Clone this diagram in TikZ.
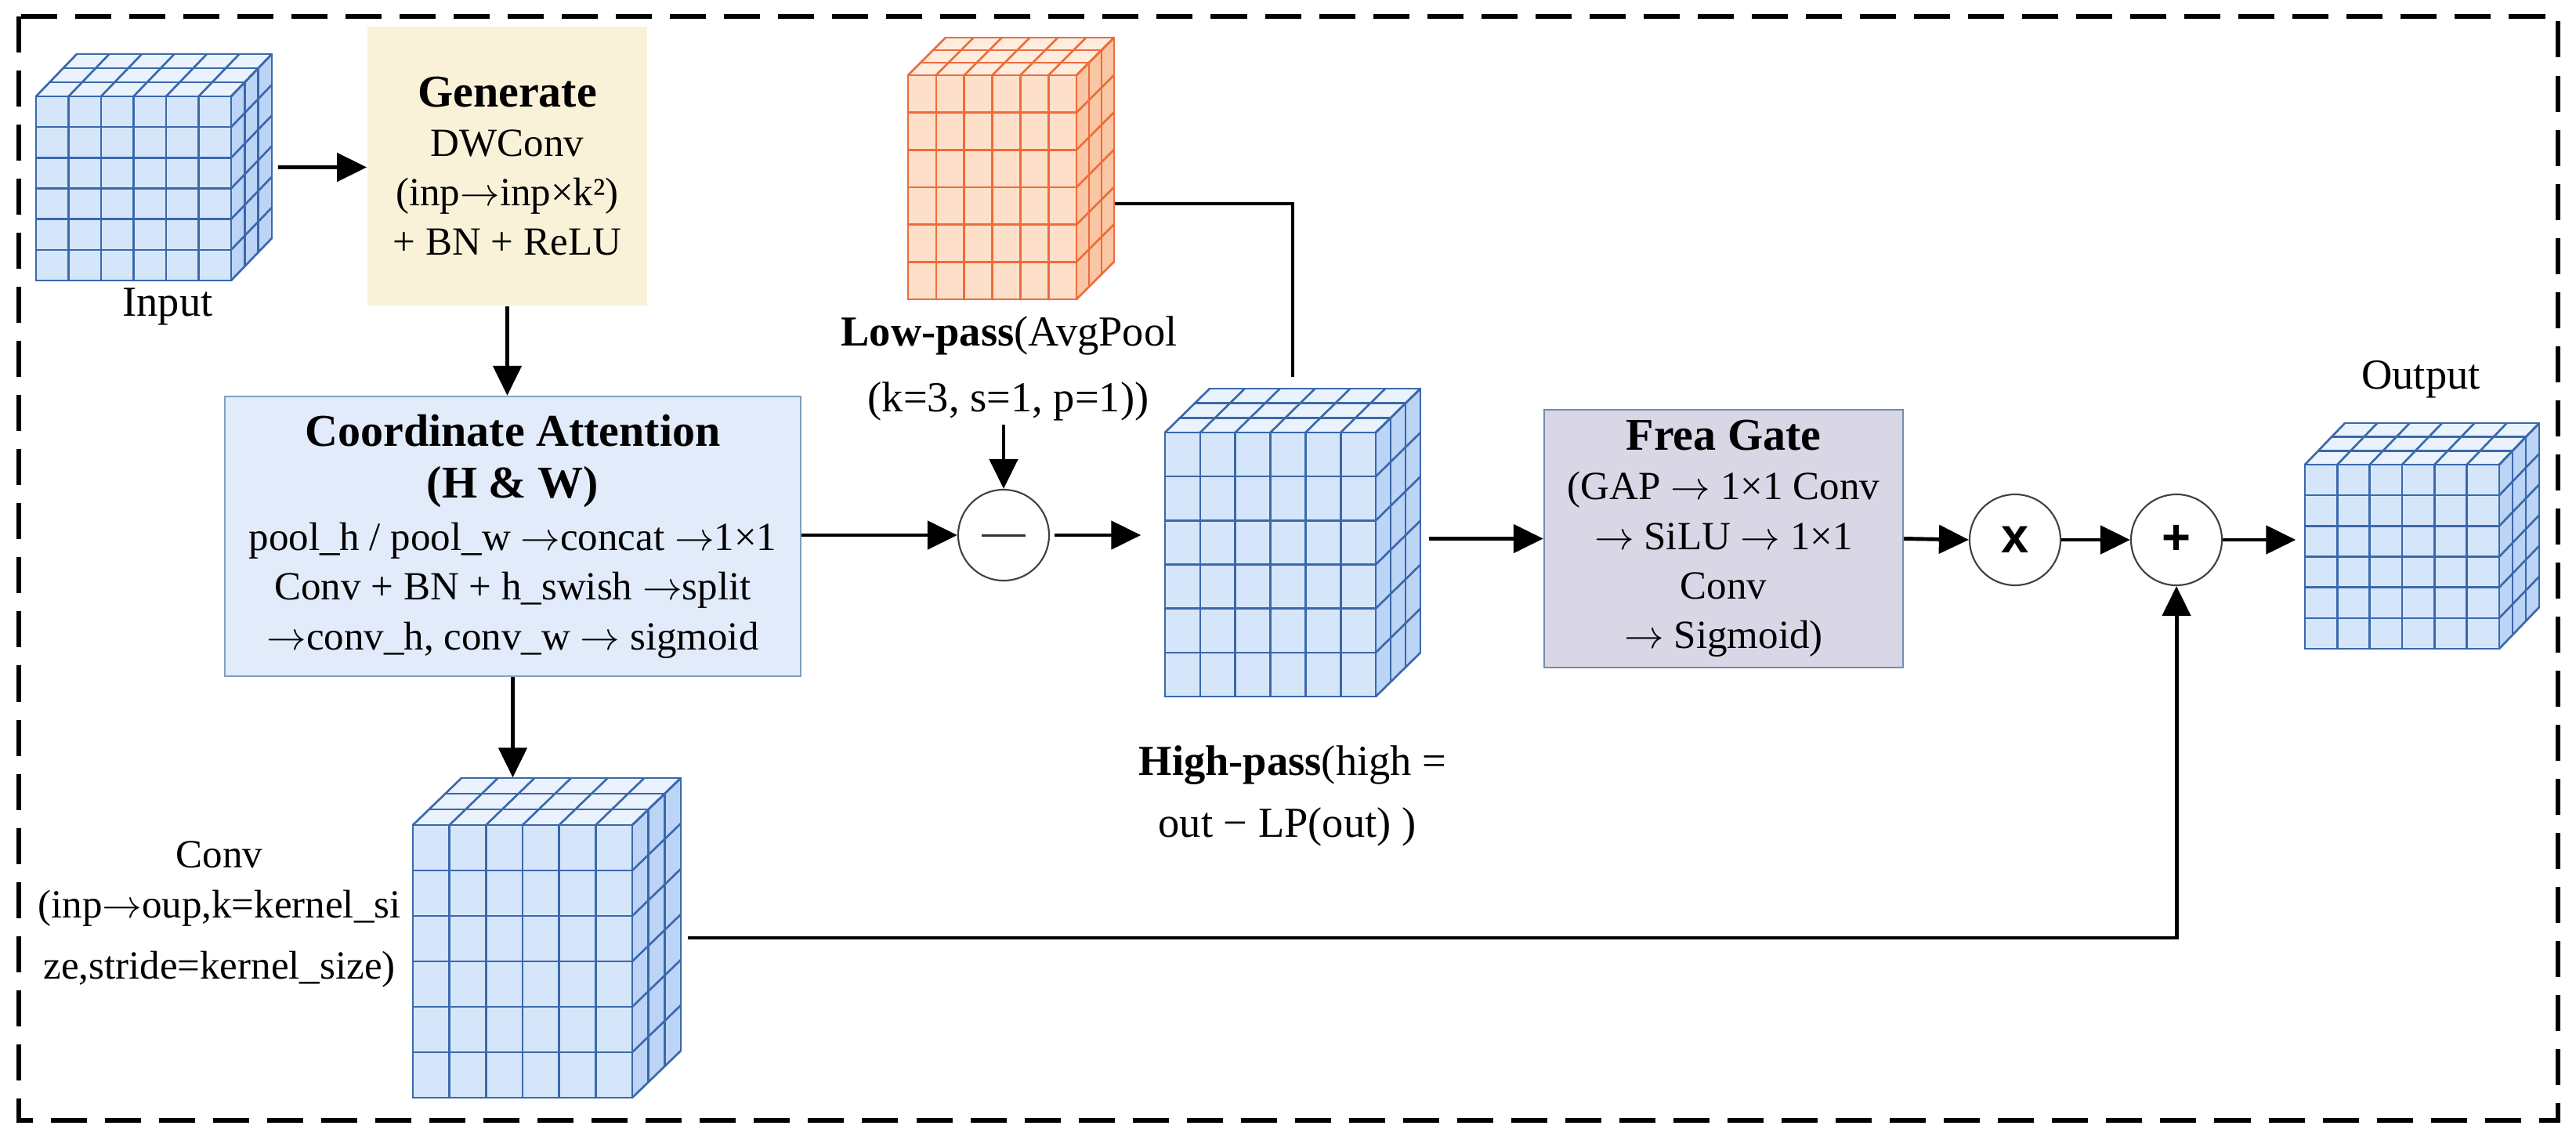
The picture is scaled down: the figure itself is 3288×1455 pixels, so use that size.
\documentclass[tikz,border=0pt]{standalone}
\usepackage{fontspec}
\setmainfont{Liberation Serif}
\newfontfamily\opfont{Liberation Sans}
\usetikzlibrary{arrows.meta,fit}

\newcommand{\ra}{\ensuremath{\rightarrow}}

\definecolor{genfill}{RGB}{250,242,216}
\definecolor{cafill}{RGB}{226,235,250}
\definecolor{cadraw}{RGB}{128,160,192}
\definecolor{freafill}{RGB}{217,214,230}
\definecolor{freadraw}{RGB}{112,142,172}
\definecolor{bfront}{RGB}{214,230,250}
\definecolor{btop}{RGB}{233,242,253}
\definecolor{bside}{RGB}{188,212,245}
\definecolor{bline}{RGB}{58,104,172}
\definecolor{ofront}{RGB}{253,223,202}
\definecolor{otop}{RGB}{254,236,223}
\definecolor{oside}{RGB}{250,198,164}
\definecolor{oline}{RGB}{238,108,58}

\newcommand{\featcube}[8]{%
  \pgfmathsetmacro{\cw}{(#3-#1)/6}%
  \pgfmathsetmacro{\chh}{(#4-#2)/6}%
  \fill[#7front] (#1,#2) rectangle (#3,#4);
  \fill[#7top] (#1,#2) -- (#3,#2) -- ({#3+#5},{#2-#6}) -- ({#1+#5},{#2-#6}) -- cycle;
  \fill[#7side] (#3,#2) -- ({#3+#5},{#2-#6}) -- ({#3+#5},{#4-#6}) -- (#3,#4) -- cycle;
  \begin{scope}[color=#7line, line width=0.75pt, line join=round, line cap=round]
    \foreach \ii in {0,...,6}{
      \draw ({#1+\ii*\cw},#2) -- ({#1+\ii*\cw},#4);
      \draw (#1,{#2+\ii*\chh}) -- (#3,{#2+\ii*\chh});
      \draw ({#1+\ii*\cw},#2) -- ({#1+\ii*\cw+#5},{#2-#6});
      \draw (#3,{#2+\ii*\chh}) -- ({#3+#5},{#2+\ii*\chh-#6});
    }
    \foreach \kk in {1,2,3}{
      \draw ({#1+\kk*#5/3},{#2-\kk*#6/3}) -- ({#3+\kk*#5/3},{#2-\kk*#6/3});
      \draw ({#3+\kk*#5/3},{#2-\kk*#6/3}) -- ({#3+\kk*#5/3},{#4-\kk*#6/3});
    }
  \end{scope}
  \node[fit={(#1,{#2-#6}) ({#3+#5},#4)}, inner sep=0pt] (#8) {};
}

\begin{document}
\begin{tikzpicture}[x=0.01cm,y=-0.01cm,
  arr/.style={line width=1.4pt,-{Triangle[length=0.38cm,width=0.36cm]}},
  conn/.style={line width=1.4pt},
  txt/.style={inner sep=0pt,font=\fontsize{15.5}{18}\selectfont},
  smalltxt/.style={inner sep=0pt,font=\fontsize{14.5}{18}\selectfont},
  box/.style={inner sep=2pt,align=center,font=\fontsize{14.5}{18}\selectfont},
  opnode/.style={circle,draw=black!75,line width=0.6pt,fill=white,minimum size=1.16cm,inner sep=0pt,font=\opfont\bfseries\fontsize{18}{18}\selectfont},
]
\useasboundingbox (0,0) rectangle (3288,1455);
\fill[white] (0,0) rectangle (3288,1455);

% outer dashed frame
\draw[line width=0.06cm, dash pattern=on 0.46cm off 0.23cm] (24,21) rectangle (3265,1430);

% cubes
\featcube{46}{123}{295}{358}{52}{54}{b}{incube}
\featcube{1159}{96}{1374}{382}{48}{48}{o}{lpcube}
\featcube{1487}{552}{1756}{889}{57}{56}{b}{hpcube}
\featcube{527}{1053}{807}{1401}{62}{60}{b}{convcube}
\featcube{2942}{593}{3190}{828}{51}{53}{b}{outcube}

% boxes
\node[box, fill=genfill, minimum width=3.57cm, minimum height=3.56cm] (gen) at (647.5,212)
  {{\bfseries\fontsize{16.5}{18}\selectfont Generate}\\DWConv\\(inp\ra inp×k²)\\+ BN + ReLU};
\node[box, fill=cafill, draw=cadraw, line width=0.6pt, minimum width=7.35cm, minimum height=3.57cm] (ca) at (654.5,684.5)
  {{\bfseries\fontsize{16.5}{18}\selectfont Coordinate Attention}\\[1pt]{\bfseries\fontsize{16.5}{18}\selectfont (H \& W)}\\[1pt]pool\_h / pool\_w \ra concat \ra 1×1\\Conv + BN + h\_swish \ra split\\\ra conv\_h, conv\_w \ra{} sigmoid};
\node[box, fill=freafill, draw=freadraw, line width=0.6pt, minimum width=4.58cm, minimum height=3.29cm] (frea) at (2200,687.5)
  {{\bfseries\fontsize{16.5}{18}\selectfont Frea Gate}\\(GAP \ra{} 1×1 Conv\\\ra{} SiLU \ra{} 1×1\\Conv\\\ra{} Sigmoid)};

% operators
\node[opnode] (minus) at (1281,683) {};
\draw[line width=0.03cm, black!80] ([xshift=-0.28cm]minus.center) -- ([xshift=0.28cm]minus.center);
\node[opnode] (times) at (2572,689) {x};
\node[opnode] (plus) at (2778,689) {+};

% labels
\node[txt, anchor=base] (inlbl) at (214,403) {Input};
\node[txt, anchor=base] (outlbl) at (3090,497) {Output};
\node[txt, anchor=base] (lp1) at (1288,442) {\textbf{Low-pass}(AvgPool};
\node[txt, anchor=base] (lp2) at (1287,525) {(k=3, s=1, p=1))};
\node[txt, anchor=base] (hp1) at (1650,989) {\textbf{High-pass}(high =};
\node[txt, anchor=base] (hp2) at (1643,1068) {out − LP(out) )};
\node[smalltxt, anchor=base] (cv1) at (280,1107) {Conv};
\node[smalltxt, anchor=base] (cv2) at (280,1171) {(inp\ra oup,k=kernel\_si};
\node[smalltxt, anchor=base] (cv3) at (280,1249) {ze,stride=kernel\_size)};

% connectors
\draw[arr, shorten <=0.07cm] (incube.east) -- (gen.west |- incube.east);
\draw[arr] (gen.south) -- (gen.south |- ca.north);
\draw[arr] (ca.east |- minus.west) -- (minus.west);
\draw[arr, shorten <=0.05cm] (lp2.south -| minus.north) -- (minus.north);
\coordinate (lpturn) at (1650,260);
\draw[conn, shorten >=0.14cm] (lpcube.east |- lpturn) -- (lpturn) -- (lpturn |- hpcube.north);
\draw[arr, shorten <=0.06cm, shorten >=0.3cm] (minus.east) -- (minus.east -| hpcube.west);
\draw[arr, shorten <=0.1cm] (hpcube.east |- frea.west) -- (frea.west);
\draw[arr] (frea.east) -- (times.west);
\draw[arr] (times.east) -- (plus.west);
\draw[arr, shorten >=0.11cm] (plus.east) -- (plus.east -| outcube.west);
\draw[arr] (ca.south) -- (ca.south |- convcube.north);
\draw[arr, shorten <=0.08cm] (convcube.east) -| (plus.south);
\end{tikzpicture}
\end{document}
